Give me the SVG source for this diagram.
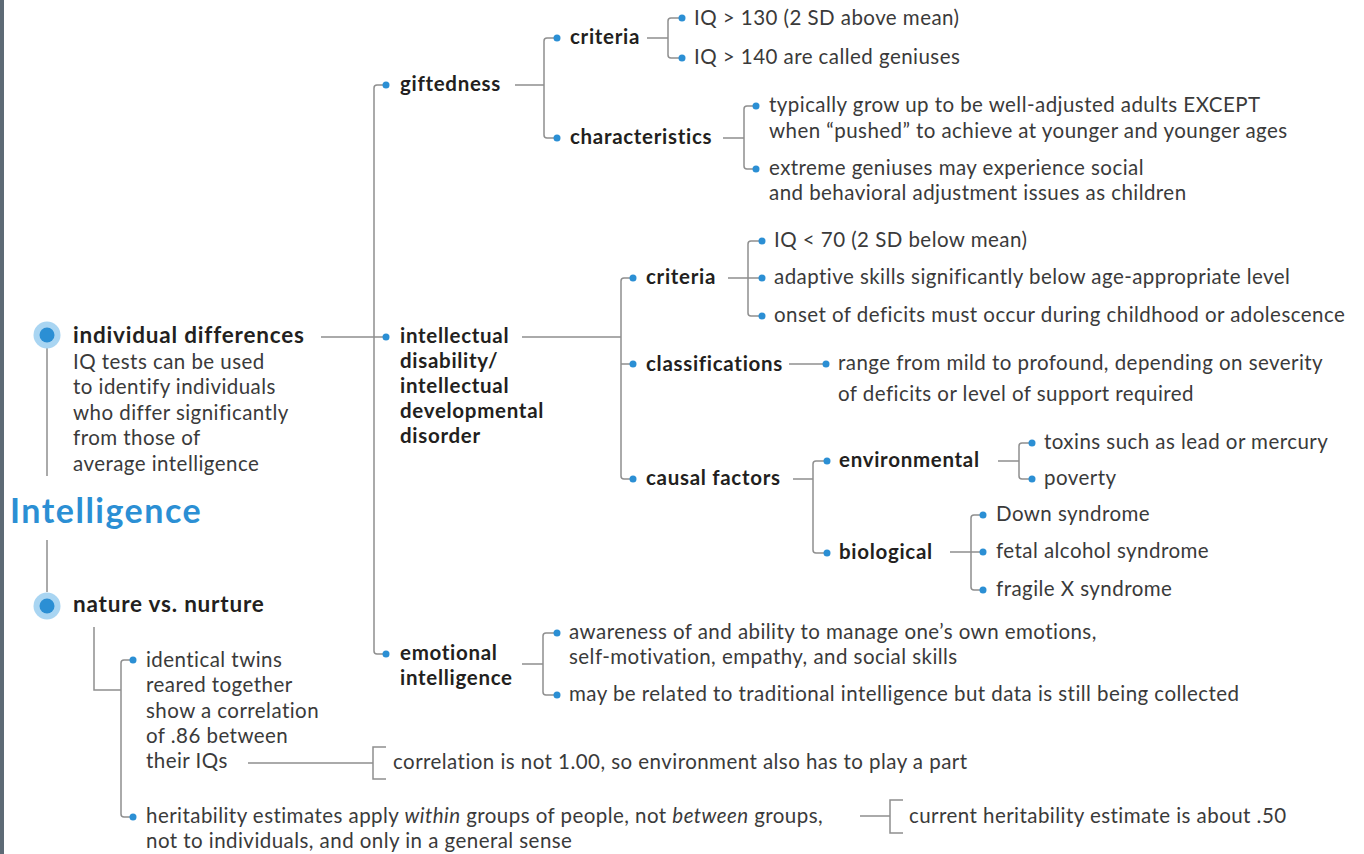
<svg xmlns="http://www.w3.org/2000/svg" width="1364" height="854" viewBox="0 0 1364 854">
<style>
.ln{stroke:#8f8f8f;stroke-width:1.5;fill:none}
.dot{fill:#2b8fd4}
.b{font-family:Lato,"Noto Sans",sans-serif;font-weight:700;font-size:20.5px;letter-spacing:0.7px;fill:#231f20}
.b1{font-family:Lato,"Noto Sans",sans-serif;font-weight:700;font-size:22.5px;letter-spacing:0.8px;fill:#231f20}
.r{font-family:Lato,"Noto Sans",sans-serif;font-weight:400;font-size:20.5px;letter-spacing:0.45px;fill:#3a3a3a}
.title{font-family:Lato,"Noto Sans",sans-serif;font-weight:700;font-size:34px;letter-spacing:1.5px;fill:#2b8fd4}
.outer{fill:#a9d5f2}
</style>
<rect x="0" y="0" width="1364" height="854" fill="#ffffff"/>
<rect x="0" y="0" width="4" height="854" fill="#5d6a75"/>

<g id="connectors">
<path class="ln" d="M47 347 V476 M47 540 V592"/>
<path class="ln" d="M321 337 H386 M386 85 H377 Q374 85 374 88 V651 Q374 654 377 654 H386"/>
<path class="ln" d="M515 85 H544 M557 38 H547 Q544 38 544 41 V135 Q544 138 547 138 H557"/>
<path class="ln" d="M647 38 H668 M682 18 H671 Q668 18 668 21 V55 Q668 58 671 58 H682"/>
<path class="ln" d="M723 138 H744 M756 106 H747 Q744 106 744 109 V166 Q744 169 747 169 H756"/>
<path class="ln" d="M522 337 H621 M633 278 H624 Q621 278 621 281 V476 Q621 479 624 479 H633 M621 364 H633"/>
<path class="ln" d="M728 278 H762 M762 241 H751 Q748 241 748 244 V313 Q748 316 751 316 H762"/>
<path class="ln" d="M789 364 H826"/>
<path class="ln" d="M793 479 H813 M827 461 H816 Q813 461 813 464 V550 Q813 553 816 553 H827"/>
<path class="ln" d="M998 461 H1019 M1032 443 H1022 Q1019 443 1019 446 V476 Q1019 479 1022 479 H1032"/>
<path class="ln" d="M950 552 H983 M983 515 H974 Q971 515 971 518 V587 Q971 590 974 590 H983"/>
<path class="ln" d="M522 664 H543 M557 633 H546 Q543 633 543 636 V692 Q543 695 546 695 H557"/>
<path class="ln" d="M94 627 V690 H121 M133 660 H124 Q121 660 121 663 V814 Q121 817 124 817 H133"/>
<path class="ln" d="M248 763 H373 M386 747 H373 V779 H386"/>
<path class="ln" d="M860 816 H890 M903 800 H890 V833 H903"/>
</g>

<g id="title"><text class="title" x="10" y="523">Intelligence</text></g>

<g id="individual-differences">
<circle class="outer" cx="47" cy="335" r="13.5"/><circle class="dot" cx="47" cy="335" r="7.5"/>
<text class="b1" x="73" y="343">individual differences</text>
<text class="r" x="73" y="369">IQ tests can be used</text>
<text class="r" x="73" y="394">to identify individuals</text>
<text class="r" x="73" y="420">who differ significantly</text>
<text class="r" x="73" y="445">from those of</text>
<text class="r" x="73" y="471">average intelligence</text>
</g>

<g id="nature-vs-nurture">
<circle class="outer" cx="47" cy="606" r="13.5"/><circle class="dot" cx="47" cy="606" r="7.5"/>
<text class="b1" x="73" y="612">nature vs. nurture</text>
</g>

<g id="twins">
<circle class="dot" cx="133" cy="660" r="3.5"/>
<text class="r" x="146" y="667">identical twins</text>
<text class="r" x="146" y="692">reared together</text>
<text class="r" x="146" y="718">show a correlation</text>
<text class="r" x="146" y="743">of .86 between</text>
<text class="r" x="146" y="768">their IQs</text>
</g>
<g id="correlation"><text class="r" x="393" y="769">correlation is not 1.00, so environment also has to play a part</text></g>

<g id="heritability">
<circle class="dot" cx="133" cy="817" r="3.5"/>
<text class="r" x="146" y="823">heritability estimates apply <tspan font-style="italic">within</tspan> groups of people, not <tspan font-style="italic">between</tspan> groups,</text>
<text class="r" x="146" y="848">not to individuals, and only in a general sense</text>
</g>
<g id="heritability-estimate"><text class="r" x="909" y="823">current heritability estimate is about .50</text></g>

<g id="giftedness">
<circle class="dot" cx="386" cy="85" r="3.5"/>
<text class="b" x="400" y="91">giftedness</text>
</g>
<g id="g-criteria">
<circle class="dot" cx="557" cy="38" r="3.5"/>
<text class="b" x="570" y="44">criteria</text>
</g>
<g id="g-crit-1"><circle class="dot" cx="682" cy="18" r="3.5"/><text class="r" x="694" y="25">IQ &gt; 130 (2 SD above mean)</text></g>
<g id="g-crit-2"><circle class="dot" cx="682" cy="58" r="3.5"/><text class="r" x="694" y="64">IQ &gt; 140 are called geniuses</text></g>
<g id="g-characteristics">
<circle class="dot" cx="557" cy="138" r="3.5"/>
<text class="b" x="570" y="144">characteristics</text>
</g>
<g id="g-char-1"><circle class="dot" cx="756" cy="106" r="3.5"/>
<text class="r" x="769" y="112">typically grow up to be well-adjusted adults EXCEPT</text>
<text class="r" x="769" y="138">when “pushed” to achieve at younger and younger ages</text></g>
<g id="g-char-2"><circle class="dot" cx="756" cy="169" r="3.5"/>
<text class="r" x="769" y="175">extreme geniuses may experience social</text>
<text class="r" x="769" y="200">and behavioral adjustment issues as children</text></g>

<g id="intellectual-disability">
<circle class="dot" cx="386" cy="337" r="3.5"/>
<text class="b" x="400" y="343">intellectual</text>
<text class="b" x="400" y="368">disability/</text>
<text class="b" x="400" y="393">intellectual</text>
<text class="b" x="400" y="418">developmental</text>
<text class="b" x="400" y="443">disorder</text>
</g>
<g id="id-criteria"><circle class="dot" cx="633" cy="278" r="3.5"/><text class="b" x="646" y="284">criteria</text></g>
<g id="id-crit-1"><circle class="dot" cx="762" cy="241" r="3.5"/><text class="r" x="774" y="247">IQ &lt; 70 (2 SD below mean)</text></g>
<g id="id-crit-2"><circle class="dot" cx="762" cy="278" r="3.5"/><text class="r" x="774" y="284">adaptive skills significantly below age-appropriate level</text></g>
<g id="id-crit-3"><circle class="dot" cx="762" cy="316" r="3.5"/><text class="r" x="774" y="322">onset of deficits must occur during childhood or adolescence</text></g>
<g id="id-classifications"><circle class="dot" cx="633" cy="364" r="3.5"/><text class="b" x="646" y="371">classifications</text></g>
<g id="id-class-1"><circle class="dot" cx="826" cy="364" r="3.5"/>
<text class="r" x="838" y="370">range from mild to profound, depending on severity</text>
<text class="r" x="838" y="401">of deficits or level of support required</text></g>
<g id="id-causal"><circle class="dot" cx="633" cy="479" r="3.5"/><text class="b" x="646" y="485">causal factors</text></g>
<g id="environmental"><circle class="dot" cx="827" cy="461" r="3.5"/><text class="b" x="839" y="467">environmental</text></g>
<g id="env-1"><circle class="dot" cx="1032" cy="443" r="3.5"/><text class="r" x="1044" y="449">toxins such as lead or mercury</text></g>
<g id="env-2"><circle class="dot" cx="1032" cy="479" r="3.5"/><text class="r" x="1044" y="485">poverty</text></g>
<g id="biological"><circle class="dot" cx="827" cy="553" r="3.5"/><text class="b" x="839" y="559">biological</text></g>
<g id="bio-1"><circle class="dot" cx="983" cy="515" r="3.5"/><text class="r" x="996" y="521">Down syndrome</text></g>
<g id="bio-2"><circle class="dot" cx="983" cy="552" r="3.5"/><text class="r" x="996" y="558">fetal alcohol syndrome</text></g>
<g id="bio-3"><circle class="dot" cx="983" cy="590" r="3.5"/><text class="r" x="996" y="596">fragile X syndrome</text></g>

<g id="emotional-intelligence">
<circle class="dot" cx="386" cy="654" r="3.5"/>
<text class="b" x="400" y="660">emotional</text>
<text class="b" x="400" y="685">intelligence</text>
</g>
<g id="ei-1"><circle class="dot" cx="557" cy="633" r="3.5"/>
<text class="r" x="569" y="639">awareness of and ability to manage one’s own emotions,</text>
<text class="r" x="569" y="664">self-motivation, empathy, and social skills</text></g>
<g id="ei-2"><circle class="dot" cx="557" cy="695" r="3.5"/>
<text class="r" x="569" y="701">may be related to traditional intelligence but data is still being collected</text></g>
</svg>
